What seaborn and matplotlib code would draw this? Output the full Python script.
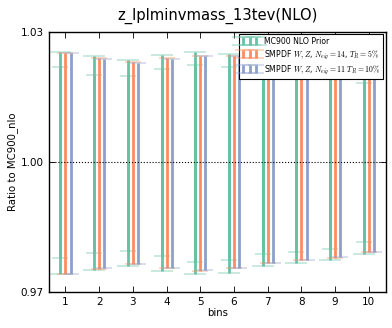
import matplotlib

matplotlib.use("Agg")
import matplotlib.pyplot as plt
import numpy as np
import seaborn as sns

# bins and per-bin ratio bands
bins = np.arange(1, 11)

prior_hi = [1.0255, 1.0245, 1.0235, 1.0248, 1.0254, 1.0249, 1.0239, 1.0233, 1.0226, 1.0212]
prior_lo = [0.9741, 0.9752, 0.9760, 0.9748, 0.9742, 0.9745, 0.9761, 0.9767, 0.9774, 0.9788]
prior_cl_hi = [1.0219, 1.0202, 1.0198, 1.0214, 1.0225, 1.0220, 1.0211, 1.0207, 1.0200, 1.0182]
prior_cl_lo = [0.9778, 0.9791, 0.9795, 0.9783, 0.9769, 0.9775, 0.9789, 0.9793, 0.9800, 0.9817]

smpdf5_hi = [1.0253, 1.0240, 1.0230, 1.0240, 1.0245, 1.0245, 1.0232, 1.0226, 1.0220, 1.0208]
smpdf5_lo = [0.9742, 0.9754, 0.9766, 0.9757, 0.9750, 0.9755, 0.9768, 0.9774, 0.9780, 0.9792]

smpdf10_hi = [1.0252, 1.0239, 1.0228, 1.0238, 1.0245, 1.0245, 1.0232, 1.0226, 1.0219, 1.0208]
smpdf10_lo = [0.9743, 0.9757, 0.9766, 0.9757, 0.9752, 0.9755, 0.9768, 0.9774, 0.9781, 0.9792]

labels = [
    "MC900 NLO Prior",
    r"SMPDF $W,Z$, $N_{eig}=14$, $T_R=5\%$",
    r"SMPDF $W,Z$, $N_{eig}=11$ $T_R=10\%$",
]
yticks = [0.97, 1.00, 1.03]

sns.set_style("ticks")
plt.rcParams["font.family"] = ["DejaVu Sans"]
plt.rcParams["mathtext.fontset"] = "cm"
plt.rcParams["text.color"] = "black"
plt.rcParams["axes.labelcolor"] = "black"
plt.rcParams["xtick.color"] = "black"
plt.rcParams["ytick.color"] = "black"
colors = sns.color_palette("Set2", 3)

fig = plt.figure(figsize=(3.92, 3.28), dpi=100)
ax = fig.add_axes([0.124, 0.109, 0.86, 0.793])


def band(x, lo, hi, color, capsize, label=None):
    lo = np.asarray(lo)
    hi = np.asarray(hi)
    mid = (lo + hi) / 2
    cont = ax.errorbar(x, mid, yerr=[mid - lo, hi - mid], fmt="none", ecolor=color,
                       elinewidth=2, capsize=capsize, capthick=1.4, label=label)
    for cap in cont[1]:
        cap.set_alpha(0.35)
    return cont


offsets = [-0.15, 0.0, 0.15]
band(bins + offsets[0], prior_lo, prior_hi, colors[0], 8, labels[0])
band(bins + offsets[0], prior_cl_lo, prior_cl_hi, colors[0], 5.5)
band(bins + offsets[1], smpdf5_lo, smpdf5_hi, colors[1], 5.5, labels[1])
band(bins + offsets[2], smpdf10_lo, smpdf10_hi, colors[2], 5.5, labels[2])

ax.axhline(1.0, color="black", linestyle=":", linewidth=0.8)

ax.set_xlim(0.5, 10.5)
ax.set_ylim(0.97, 1.03)
ax.set_xticks(bins)
ax.set_yticks(yticks)
ax.set_yticklabels([f"{t:.2f}" for t in yticks])
ax.tick_params(direction="in", top=True, right=True, labelsize=7.5, length=4, width=0.6)
for side in ["top", "right", "bottom", "left"]:
    ax.spines[side].set_color("black")
    ax.spines[side].set_linewidth(1.0)

ax.set_title("z_lplminvmass_13tev(NLO)", fontsize=10.6, pad=9)
ax.set_xlabel("bins", fontsize=7.3, labelpad=1)
ax.set_ylabel("Ratio to MC900_nlo", fontsize=7.3, labelpad=2)

leg = ax.legend(loc="upper right", fontsize=5.6, numpoints=3, frameon=True,
                fancybox=False, borderaxespad=0.3, handlelength=2.2,
                labelspacing=0.3, borderpad=0.3, handleheight=0.9)
leg.get_frame().set_edgecolor("black")
leg.get_frame().set_linewidth(0.8)
leg.get_frame().set_alpha(1)

fig.savefig("out.png", dpi=100)
plt.close(fig)
